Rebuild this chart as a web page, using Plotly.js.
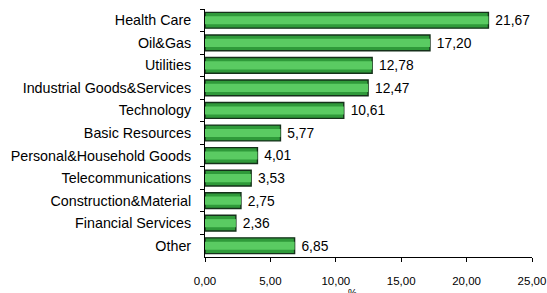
<!DOCTYPE html>
<html><head><meta charset="utf-8">
<script src="https://cdn.plot.ly/plotly-3.0.1.min.js"></script>
<style>html,body{margin:0;padding:0;background:#fff;}#chart{width:547px;height:293px;}</style>
</head><body><div id="chart"></div>
<script>
const categories = ["Health Care","Oil&Gas","Utilities","Industrial Goods&Services","Technology","Basic Resources","Personal&Household Goods","Telecommunications","Construction&Material","Financial Services","Other"];
const values = [21.67,17.20,12.78,12.47,10.61,5.77,4.01,3.53,2.75,2.36,6.85];
const xTicks = [0,5,10,15,20,25];
const axisTitle = "%";

const labels = values.map(v => '\u00a0' + v.toFixed(2).replace('.', ','));
const font = "Liberation Sans, Arial, sans-serif";

const traces = [
  {type:'bar', orientation:'h', y:categories, x:values, width:0.7,
   marker:{color:'#2f9a3a', line:{color:'#15301a', width:1.4}},
   text:labels, textposition:'outside', cliponaxis:false,
   textfont:{family:font, size:14, color:'#000'}, hoverinfo:'none'},
  {type:'bar', orientation:'h', y:categories, x:values, width:0.36,
   marker:{color:'#5acb62', line:{width:0}}, hoverinfo:'none'}
];

const layout = {
  width:547, height:293,
  margin:{l:205, r:15, t:9, b:36},
  paper_bgcolor:'#fff', plot_bgcolor:'#fff',
  barmode:'overlay', showlegend:false,
  separators:', ',
  font:{family:font, color:'#000'},
  xaxis:{range:[0,25], tickvals:xTicks, tickformat:'.2f', ticks:'outside', ticklen:4, tickcolor:'#000',
         showline:true, linecolor:'#000', linewidth:1, showgrid:false, zeroline:false,
         tickfont:{family:font, size:11.5, color:'#000'}, ticklabelstandoff:9, fixedrange:true},
  yaxis:{type:'category', categoryorder:'array', categoryarray:categories, autorange:'reversed',
         ticks:'outside', tickson:'boundaries', ticklen:4, tickcolor:'#000',
         showline:true, linecolor:'#000', linewidth:1, showgrid:false,
         tickfont:{family:font, size:14.3, color:'#000'}, ticklabelstandoff:10},
  annotations:[{text:axisTitle, xref:'paper', yref:'paper', x:0.45, y:-0.117, xanchor:'center', yanchor:'top',
                showarrow:false, font:{family:font, size:10, color:'#000'}}]
};
Plotly.newPlot('chart', traces, layout, {displayModeBar:false, staticPlot:true});
</script></body></html>
